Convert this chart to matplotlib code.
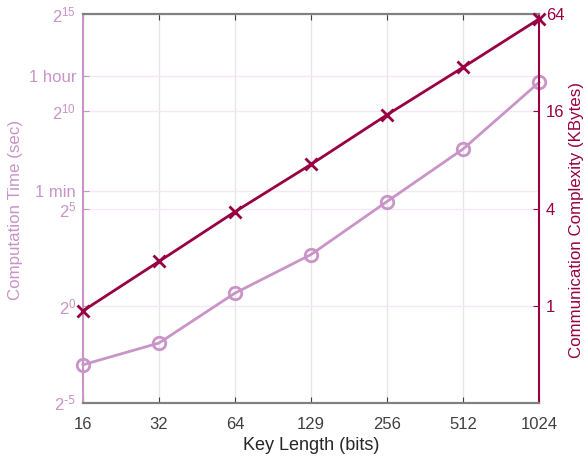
import numpy as np
from matplotlib import pyplot as plt

plt.rcParams['font.family'] = ['Liberation Sans', 'DejaVu Sans']
plt.rcParams['mathtext.default'] = 'regular'

key_lengths = [16, 32, 64, 128, 256, 512, 1024]
key_labels = ['16', '32', '64', '129', '256', '512', '1024']

# computation time in seconds
comp_time = [0.122, 0.265, 1.57, 6.2, 41, 266, 2860]
# communication in KBytes
comm_kb = [0.93, 1.88, 3.82, 7.5, 15.2, 29.9, 59.6]

time_ticks = [2**-5, 2**0, 2**5, 60, 2**10, 3600, 2**15]
time_tick_labels = [r'$2^{\text{-5}}$', r'$2^{0}$', r'$2^{5}$', '1 min',
                    r'$2^{10}$', '1 hour', r'$2^{15}$']
comm_ticks = [1, 4, 16, 64]
comm_tick_labels = ['1', '4', '16', '64']

c_time = '#c994c7'
c_comm = '#980043'
c_axis = '#404040'

fig = plt.figure(figsize=(5.86, 4.59), dpi=100)
ax = fig.add_axes([0.1416, 0.122, 0.7782, 0.8475])
ax2 = ax.twinx()

ax.set_xscale('log', base=2)
ax.set_yscale('log', base=2)
ax2.set_yscale('log', base=2)

ax.set_xlim(16, 1024)
ax.set_ylim(2**-5, 2**15)
ax2.set_ylim(0.25, 64)

ax.set_xticks(key_lengths)
ax.set_xticklabels(key_labels)
ax.minorticks_off()
ax2.minorticks_off()
ax.set_yticks(time_ticks)
ax.set_yticklabels(time_tick_labels)
ax2.set_yticks(comm_ticks)
ax2.set_yticklabels(comm_tick_labels)

ax.grid(axis='x', color='#e6e6e6', lw=1)
ax.grid(axis='y', color='#f3e8f3', lw=1)
ax.set_axisbelow(True)

ax.plot(key_lengths, comp_time, color=c_time, lw=2, marker='o', ms=9,
        mfc='none', mew=2, clip_on=False, zorder=3)
ax2.plot(key_lengths, comm_kb, color=c_comm, lw=2, marker='x', ms=9,
         mew=2, clip_on=False, zorder=3)

ax.tick_params(axis='x', direction='in', top=True, length=4, colors=c_axis,
               labelsize=12, pad=10)
ax.tick_params(axis='y', direction='in', length=4, colors=c_time,
               labelsize=12, pad=5)
ax2.tick_params(axis='y', direction='in', length=4, colors=c_comm,
                labelsize=12, pad=5)

for a in (ax, ax2):
    a.spines['top'].set_color('#808080')
    a.spines['bottom'].set_color('#808080')
    a.spines['top'].set_linewidth(1.5)
    a.spines['bottom'].set_linewidth(1.5)
ax.spines['left'].set_color(c_time)
ax.spines['left'].set_linewidth(1.5)
ax2.spines['right'].set_color(c_comm)
ax2.spines['right'].set_linewidth(1.5)
ax2.spines['left'].set_visible(False)
ax.spines['right'].set_visible(False)

ax.set_xlabel('Key Length (bits)', fontsize=13, color='#262626', labelpad=3.5)
ax.set_ylabel('Computation Time (sec)', fontsize=12.2, color=c_time,
              va='center')
ax2.set_ylabel('Communication Complexity (KBytes)', fontsize=12.2,
               color=c_comm, va='center')
ax.yaxis.set_label_coords(16 / 586, 1 - 210 / 459, transform=fig.transFigure)
ax2.yaxis.set_label_coords(577 / 586, 1 - 220 / 459, transform=fig.transFigure)

fig.savefig('out.png', dpi=100)
